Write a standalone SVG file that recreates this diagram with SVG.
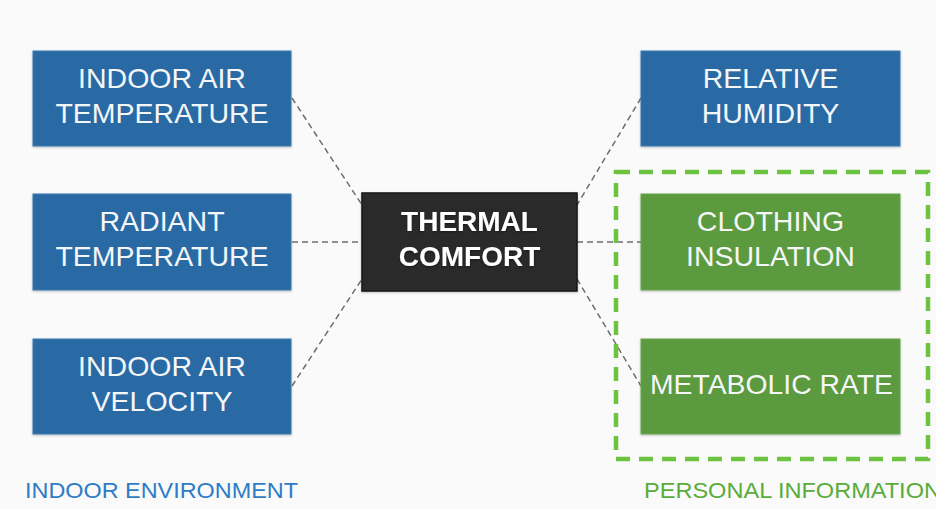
<svg xmlns="http://www.w3.org/2000/svg" width="936" height="509" viewBox="0 0 936 509">
  <defs>
    <filter id="shadow" x="-10%" y="-10%" width="120%" height="130%">
      <feDropShadow dx="0" dy="1" stdDeviation="1" flood-color="#000" flood-opacity="0.25"/>
    </filter>
    <filter id="textShadow" x="-5%" y="-20%" width="110%" height="150%">
      <feDropShadow dx="0" dy="1" stdDeviation="0.8" flood-color="#000" flood-opacity="0.45"/>
    </filter>
  </defs>
  <style>
    .box { stroke-width: 1; filter: url(#shadow); }
    .blue { fill: #2c6ba4; stroke: #3b79b0; }
    .green { fill: #5c9a40; stroke: #68a64b; }
    .dark { fill: #2b2b2b; stroke: #161616; stroke-width: 1.5; }
    .label { font-family: "Liberation Sans", Arial, sans-serif; font-size: 28.5px; fill: #f4f6f8; text-anchor: middle; }
    .bold { font-weight: bold; font-size: 28px; fill: #ffffff; filter: url(#textShadow); }
    .conn { stroke: #6e6e6e; stroke-width: 1.5; stroke-dasharray: 6 4; fill: none; }
    .group-frame { fill: none; stroke: #6cc33f; stroke-width: 4.5; stroke-dasharray: 14 9; }
    .caption { font-family: "Liberation Sans", Arial, sans-serif; font-size: 22px; }
  </style>

  <rect x="0" y="0" width="936" height="509" fill="#fafafa"/>

  <!-- dashed connectors to the central node -->
  <g id="connectors">
    <line class="conn" x1="292" y1="98" x2="362" y2="205"/>
    <line class="conn" x1="292" y1="242" x2="362" y2="242"/>
    <line class="conn" x1="292" y1="386" x2="362" y2="279"/>
    <line class="conn" x1="641" y1="98" x2="577" y2="205"/>
    <line class="conn" x1="577" y1="242" x2="641" y2="242"/>
    <line class="conn" x1="577" y1="279" x2="641" y2="386"/>
  </g>

  <!-- personal information grouping frame -->
  <rect id="personal-frame" class="group-frame" x="616" y="172" width="312" height="287"/>

  <g id="indoor-air-temperature">
    <rect class="box blue" x="33" y="51" width="258" height="95"/>
    <text class="label" x="162" y="88">INDOOR AIR</text>
    <text class="label" x="162" y="123">TEMPERATURE</text>
  </g>

  <g id="radiant-temperature">
    <rect class="box blue" x="33" y="194" width="258" height="96"/>
    <text class="label" x="162" y="231">RADIANT</text>
    <text class="label" x="162" y="266">TEMPERATURE</text>
  </g>

  <g id="indoor-air-velocity">
    <rect class="box blue" x="33" y="339" width="258" height="95"/>
    <text class="label" x="162" y="376">INDOOR AIR</text>
    <text class="label" x="162" y="411">VELOCITY</text>
  </g>

  <g id="thermal-comfort">
    <rect class="box dark" x="362" y="193" width="215" height="98"/>
    <text class="label bold" x="469.5" y="231">THERMAL</text>
    <text class="label bold" x="469.5" y="266">COMFORT</text>
  </g>

  <g id="relative-humidity">
    <rect class="box blue" x="641" y="51" width="259" height="95"/>
    <text class="label" x="770.5" y="88">RELATIVE</text>
    <text class="label" x="770.5" y="123">HUMIDITY</text>
  </g>

  <g id="clothing-insulation">
    <rect class="box green" x="641" y="194" width="259" height="96"/>
    <text class="label" x="770.5" y="231">CLOTHING</text>
    <text class="label" x="770.5" y="266">INSULATION</text>
  </g>

  <g id="metabolic-rate">
    <rect class="box green" x="641" y="339" width="259" height="95"/>
    <text class="label" x="771.5" y="394" textLength="243" lengthAdjust="spacingAndGlyphs">METABOLIC RATE</text>
  </g>

  <g id="captions">
    <text class="caption" x="25" y="498" fill="#2e7cc6" textLength="273" lengthAdjust="spacingAndGlyphs">INDOOR ENVIRONMENT</text>
    <text class="caption" x="644" y="498" fill="#5aac3a" textLength="297" lengthAdjust="spacingAndGlyphs">PERSONAL INFORMATION</text>
  </g>
</svg>
